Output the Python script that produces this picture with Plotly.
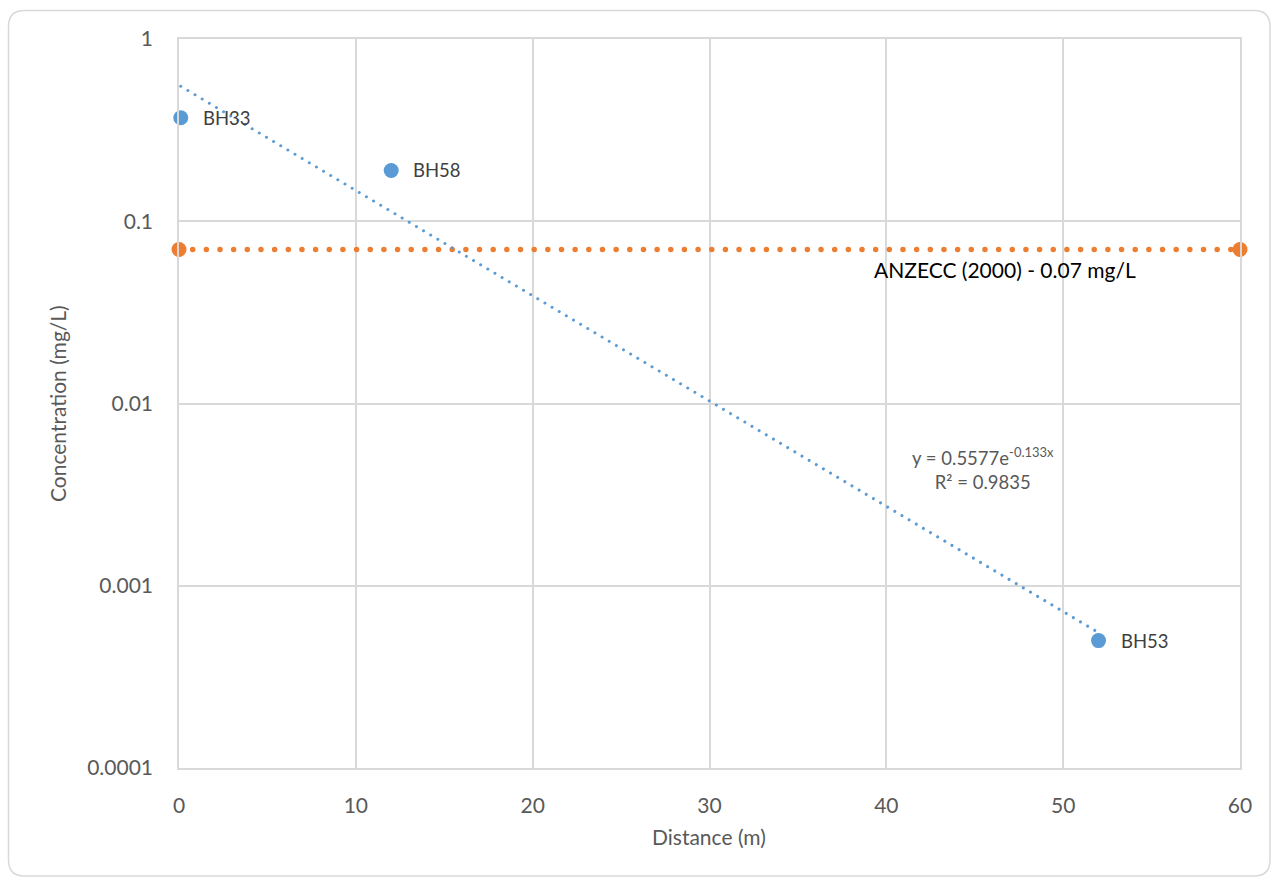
import math
import plotly.graph_objects as go

# ---------------- data ----------------
bh_names = ["BH33", "BH58", "BH53"]
bh_distance = [0.1, 12, 52]
bh_conc = [0.37, 0.19, 0.0005]

limit_x = [0, 60]
limit_y = [0.07, 0.07]
limit_label = "ANZECC (2000) - 0.07 mg/L"

trend_a = 0.5577
trend_b = -0.133
trend_r2 = 0.9835

y_tickvals = [1, 0.1, 0.01, 0.001, 0.0001]
y_ticktext = ["1", "0.1", "0.01", "0.001", "0.0001"]
x_tickvals = [0, 10, 20, 30, 40, 50, 60]

# trendline drawn over the data extent (straight on log axis)
trend_x = [min(bh_distance), max(bh_distance)]
trend_y = [trend_a * math.exp(trend_b * x) for x in trend_x]

BLUE = "#5B9BD5"
ORANGE = "#ED7D31"
GRID = "#D9D9D9"
FONT = "Lato"

W, H = 1277, 877
ML, MR, MT, MB = 179, 37, 39, 109
PW, PH = W - ML - MR, H - MT - MB


def px(xp):
    return (xp - ML) / PW


def py(yp):
    return (H - MB - yp) / PH


fig = go.Figure()

fig.add_trace(go.Scatter(
    x=limit_x, y=limit_y, mode="lines+markers",
    line=dict(color=ORANGE, width=5.5, dash="dot"),
    marker=dict(color=ORANGE, size=15),
    cliponaxis=False, hoverinfo="skip", showlegend=False,
))
fig.add_trace(go.Scatter(
    x=trend_x, y=trend_y, mode="lines",
    line=dict(color=BLUE, width=3, dash="dot"),
    cliponaxis=False, hoverinfo="skip", showlegend=False,
))
fig.add_trace(go.Scatter(
    x=bh_distance, y=bh_conc, mode="markers",
    marker=dict(color=BLUE, size=15),
    cliponaxis=False, showlegend=False,
))

annotations = []
for name, xv, yv in zip(bh_names, bh_distance, bh_conc):
    annotations.append(dict(
        x=xv, y=math.log10(yv), xref="x", yref="y", text=name,
        showarrow=False, xanchor="left", yanchor="middle", xshift=20,
        font=dict(family=FONT, size=18.5, color="#404040"),
    ))
annotations.append(dict(
    x=limit_x[-1], y=math.log10(limit_y[-1]), xref="x", yref="y",
    text=limit_label, showarrow=False, xanchor="right", yanchor="middle",
    xshift=-102, yshift=-20,
    font=dict(family=FONT, size=21, color="#000000"),
))
annotations.append(dict(
    x=px(983), y=py(468), xref="paper", yref="paper",
    text=f"y = {trend_a}e<sup>{trend_b}x</sup><br>R² = {trend_r2}",
    showarrow=False, xanchor="center", yanchor="middle", align="center",
    font=dict(family=FONT, size=18.5, color="#595959"),
))
annotations.append(dict(
    x=px(709), y=py(836), xref="paper", yref="paper", text="Distance (m)",
    showarrow=False, xanchor="center", yanchor="middle",
    font=dict(family=FONT, size=21, color="#595959"),
))
annotations.append(dict(
    x=px(57), y=py(404), xref="paper", yref="paper",
    text="Concentration (mg/L)", textangle=-90,
    showarrow=False, xanchor="center", yanchor="middle",
    font=dict(family=FONT, size=21, color="#595959"),
))

# rounded outer border
bx0, by0, bx1, by1, r = 8.5, 10.5, 1270, 876, 16
rx, ry = r / PW, r / PH
X0, X1, Y0, Y1 = px(bx0), px(bx1), py(by1), py(by0)
path = (f"M{X0 + rx},{Y1} L{X1 - rx},{Y1} Q{X1},{Y1} {X1},{Y1 - ry} "
        f"L{X1},{Y0 + ry} Q{X1},{Y0} {X1 - rx},{Y0} L{X0 + rx},{Y0} "
        f"Q{X0},{Y0} {X0},{Y0 + ry} L{X0},{Y1 - ry} Q{X0},{Y1} {X0 + rx},{Y1} Z")

fig.update_layout(
    width=W, height=H,
    margin=dict(l=ML, r=MR, t=MT, b=MB),
    paper_bgcolor="white", plot_bgcolor="white",
    showlegend=False,
    annotations=annotations,
    shapes=[dict(type="path", path=path, xref="paper", yref="paper",
                 line=dict(color=GRID, width=1.5), layer="below")],
    xaxis=dict(
        range=[0, 60], tickvals=x_tickvals, showgrid=True, gridcolor=GRID,
        gridwidth=1.5, showline=True, linecolor=GRID, linewidth=1.5,
        mirror=True, zeroline=False, ticks="", ticklabelstandoff=18,
        tickfont=dict(family=FONT, size=21, color="#595959"),
    ),
    yaxis=dict(
        type="log", range=[-4, 0], tickvals=y_tickvals, ticktext=y_ticktext,
        showgrid=True, gridcolor=GRID, gridwidth=1.5, showline=True,
        linecolor=GRID, linewidth=1.5, mirror=True, zeroline=False,
        ticks="", ticklabelstandoff=20,
        tickfont=dict(family=FONT, size=21, color="#595959"),
    ),
)

post = """
document.body.style.margin = '0';
document.body.style.overflow = 'hidden';
var gd = document.getElementById('{plot_id}');
function roundDots() {
  var traces = gd.querySelectorAll('.scatterlayer .trace');
  traces.forEach(function (tr, i) {
    var p = tr.querySelector('path.js-line');
    if (!p) return;
    p.style.strokeLinecap = 'round';
    p.style.strokeDasharray = (i === 0) ? '0.01px,13.65px' : '0.01px,8.3px';
  });
}
roundDots();
gd.on('plotly_afterplot', roundDots);
"""

fig.write_html("out.html", post_script=post,
               config={"displayModeBar": False, "staticPlot": False})
